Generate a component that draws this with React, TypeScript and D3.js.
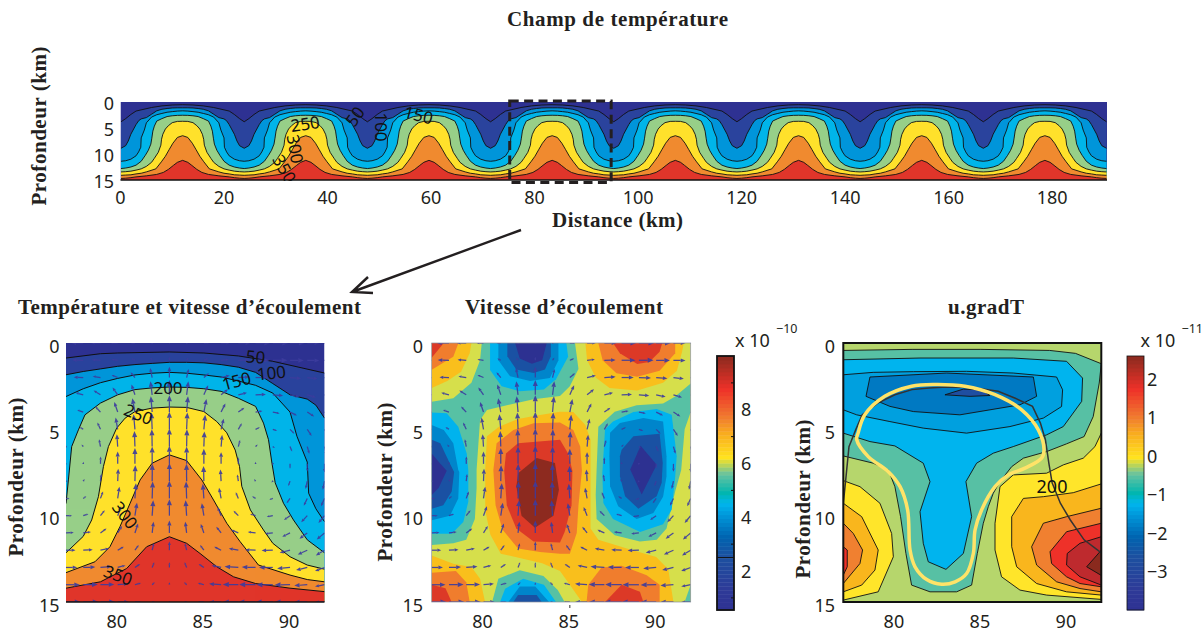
import React from "react";
import * as d3 from "d3";

type P = [number, number];

// ---------- isotherms: [distance km, depth km] ----------
const temp50: P[] = [[77,.87],[79,.62],[80,.58],[83,.52],[85,.58],[87,.75],[89,1.06],[92,1.74]];
const temp100: P[] = [[77,1.84],[78,1.65],[79,1.5],[80,1.35],[81,1.25],[82,1.18],[83,1.12],[84,1.12],[85,1.15],[86,1.25],[87,1.4],[88,1.7],[89,2.35],[90,3.0],[91,3.25],[91.5,3.6],[92,4.35]];
const temp150: P[] = [[77,3.1],[78,2.65],[79,2.3],[80,2.05],[81,1.85],[82,1.75],[83,1.7],[84,1.75],[85,1.85],[86,1.97],[87,2.2],[88,2.45],[89,2.9],[90,4.0],[90.4,5.4],[91,6.9],[91.08,8.7],[91.5,9.6],[92,10.35]];
const temp200: P[] = [[77,9.3],[77.14,7.93],[77.33,6],[77.72,5.03],[78.1,4.16],[79,3.48],[80,3],[81,2.7],[82,2.6],[83,2.55],[84,2.57],[85,2.65],[86,2.8],[87,3.2],[88,3.67],[88.46,4.64],[88.75,5.6],[88.95,6.96],[89.14,8.1],[89.62,9.28],[90.2,10.25],[91,11.4],[92,12.15]];
const temp250: P[] = [[77,12.15],[78,11.2],[78.49,10.25],[78.88,8.9],[79.17,7.16],[79.46,6],[79.94,4.93],[80.43,4.35],[81,3.97],[82,3.77],[83,3.71],[84,3.73],[85,3.97],[85.75,4.55],[86.33,5.2],[86.82,6.2],[87.07,7.16],[87.2,8.3],[87.7,9.67],[88.46,10.83],[89,11.6],[90,12.38],[91,12.86],[92,13.1]];
const temp300: P[] = [[77,13.3],[78.68,12.67],[79.55,11.8],[80.13,10.64],[80.72,9.28],[81.3,7.93],[82,6.96],[83,6.48],[84,6.81],[84.88,7.93],[85.56,9.09],[86.33,10.44],[87.1,11.5],[88.17,12.86],[90,13.44],[91,13.7],[92,13.83]];
const temp350: P[] = [[77,14.2],[79,13.83],[80.52,13.06],[81.68,11.8],[83,11.22],[84,11.6],[84.78,12.19],[85.75,12.96],[86.72,13.54],[88,13.93],[90,14.2],[92,14.4]];
const isotherms = [temp50, temp100, temp150, temp200, temp250, temp300, temp350];

// continuation of each isotherm from 9 km to 11.9 km from the crest: [offset km, depth km]
const trough50: P[] = [[10,2.4],[11,3.2],[11.9,3.8]];
const trough100: P[] = [[10,6.2],[10.5,7.5],[11,8.4],[11.9,8.9]];
const trough150: P[] = [[10,11],[11,11.3],[11.9,11.4]];
const trough200: P[] = [[10,12.5],[11,12.7],[11.9,12.8]];
const trough250: P[] = [[10,13.3],[11,13.4],[11.9,13.45]];
const trough300: P[] = [[10,14],[11,14.05],[11.9,14.1]];
const trough350: P[] = [[10,14.55],[11,14.65],[11.9,14.7]];
const troughs = [trough50, trough100, trough150, trough200, trough250, trough300, trough350];
const crestDistances = [12, 35.8, 59.6, 83.4, 107.2, 131, 154.8, 178.6];
const crestOfZoom = 83;
const tempColors = ["#2A439D", "#0095DA", "#00B5E9", "#97CF88", "#FFE12B", "#F08A2F", "#E0352A"];
const tempTopColor = "#2E3192";

// ---------- flow: arrows on the 1 km grid ----------
const gridX = d3.range(77, 93);
const gridD = d3.range(0, 16);
const flowU = [
[-.85,-.7,-.55,-.4,-.25,-.1,0,.1,.3,.5,.7,.85,.9,.85,.7,.6],
[-.8,-.65,-.5,-.35,-.2,-.1,0,.1,.25,.45,.65,.8,.85,.8,.7,.6],
[-.7,-.55,-.45,-.35,-.25,-.12,0,.12,.3,.5,.65,.7,.7,.65,.6,.5],
[-.55,-.45,-.4,-.3,-.2,-.1,0,.1,.25,.4,.5,.6,.6,.55,.5,.5],
[-.4,-.35,-.3,-.2,-.15,-.08,0,.08,.15,.25,.35,.4,.4,.4,.4,.4],
[-.25,-.2,-.18,-.12,-.08,-.04,0,.04,.08,.15,.2,.25,.25,.25,.25,.25],
[-.1,-.1,-.08,-.05,-.03,-.02,0,.02,.03,.06,.1,.12,.12,.12,.12,.12],
[0,.01,.01,0,0,0,0,0,0,0,-.01,-.01,-.01,0,0,0],
[.1,.08,.05,.03,.02,.01,0,-.01,-.02,-.04,-.06,-.08,-.08,-.1,-.1,-.1],
[.2,.18,.15,.1,.06,.03,0,-.03,-.06,-.12,-.15,-.2,-.2,-.2,-.2,-.2],
[.35,.3,.25,.2,.12,.06,0,-.06,-.12,-.2,-.28,-.32,-.35,-.35,-.35,-.35],
[.45,.45,.35,.25,.18,.08,0,-.08,-.18,-.28,-.4,-.45,-.45,-.45,-.45,-.45],
[.55,.55,.5,.35,.22,.1,0,-.1,-.22,-.4,-.55,-.6,-.65,-.6,-.55,-.5],
[.65,.7,.65,.45,.3,.12,0,-.12,-.3,-.55,-.8,-.8,-.8,-.75,-.65,-.55],
[.8,.85,.8,.6,.35,.15,0,-.15,-.35,-.7,-.9,-.95,-.95,-.9,-.75,-.55],
[.85,.9,.85,.65,.35,.15,0,-.15,-.35,-.7,-.9,-1,-1,-.9,-.75,-.55],
];
const flowV = [
[0,0,0,0,0,0,0,0,0,0,0,0,0,0,0,0],
[.02,.02,.03,.05,.1,.15,.2,.15,.1,.05,.02,0,0,-.01,-.02,-.02],
[0,.02,.07,.15,.3,.55,.62,.5,.25,.12,.05,0,-.03,-.05,-.07,-.05],
[.05,.12,.25,.42,.6,.78,.85,.78,.55,.32,.12,.02,-.05,-.12,-.15,-.12],
[.02,.12,.32,.58,.8,.92,.98,.92,.75,.5,.25,.06,-.08,-.2,-.25,-.25],
[0,.12,.4,.68,.88,.98,1.02,.98,.85,.62,.35,.12,-.08,-.25,-.38,-.4],
[-.02,.12,.42,.72,.9,1,1.05,1,.88,.68,.38,.12,-.08,-.28,-.42,-.5],
[-.02,.12,.42,.72,.92,1,1.05,1,.88,.68,.38,.12,-.08,-.28,-.45,-.5],
[-.02,.12,.42,.72,.92,1,1.05,1,.88,.68,.38,.12,-.08,-.28,-.45,-.5],
[-.02,.12,.4,.68,.88,.98,1.02,.98,.85,.62,.35,.12,-.08,-.28,-.42,-.45],
[0,.1,.32,.55,.75,.9,.95,.9,.72,.5,.28,.1,-.06,-.25,-.38,-.42],
[.02,.06,.25,.4,.55,.65,.72,.65,.52,.36,.18,.06,-.05,-.22,-.33,-.38],
[0,.03,.1,.2,.3,.4,.5,.4,.3,.2,.1,.03,-.02,-.15,-.25,-.3],
[0,.02,.05,.12,.2,.3,.3,.3,.2,.12,.05,.02,0,-.06,-.15,-.2],
[0,.01,.02,.05,.1,.15,.15,.15,.1,.05,.02,.01,0,-.01,-.05,-.1],
[0,0,0,0,0,0,0,0,0,0,0,0,0,0,0,0],
];

// ---------- speed bands (×10⁻¹⁰): polygon outlines [distance km, depth km] ----------
const speedWarmTopLeft: P[] = [[77,0],[79.3,0],[79.2,.6],[78.7,1.66],[77.9,2.2],[77,2.6]];
const speedWarmTopRight: P[] = [[85.9,0],[86,1],[86.5,2],[87.3,2.6],[88.9,2.75],[90.4,2.3],[91.2,1.6],[91.5,.5],[91.6,0]];
const speedWarmCentre: P[] = [[80.1,7.35],[80.2,5.4],[80.9,4.85],[82,4.4],[83.1,4.2],[84.43,3.98],[85.2,4],[85.9,4.75],[86.2,5.6],[86.2,9.4],[86.2,10.75],[86.65,11.4],[88.3,11.9],[90,12.4],[90.7,13.1],[91,15],[85.7,15],[85,14],[84.43,13.2],[83.4,12.75],[82.1,12.45],[81,12.2],[80.4,11.1],[80.1,9.7]];
const speedWarmBottomLeft: P[] = [[77,12.3],[78.25,12.78],[79.3,12.97],[79.8,13.65],[80.09,15],[77,15]];
const speedOrangeTopLeft: P[] = [[77,0],[78.55,0],[78.25,.8],[77,1.55]];
const speedOrangeTopRight: P[] = [[86.65,0],[86.9,1],[87.7,1.75],[88.9,1.95],[90.2,1.6],[91.1,.6],[91.1,0]];
const speedOrangeCentre: P[] = [[80.57,7.35],[80.76,5.8],[81.73,5.04],[82.9,4.65],[84.43,4.6],[85.2,5.04],[85.6,6],[85.7,7.4],[85.5,9.4],[85.4,11],[85,12.2],[84.43,12.2],[83.27,12.1],[82,11.9],[81.1,10.8],[80.7,9.4]];
const speedOrangeBottomLeft: P[] = [[77,13.3],[78.4,13.2],[79,13.85],[79.2,15],[77,15]];
const speedOrangeBottomRight: P[] = [[85.97,15],[86.07,14],[86.84,13],[88,12.9],[89.45,13.45],[90.2,14],[90.2,15]];
const speedRedTopLeft: P[] = [[77,0],[77.7,0],[77,.85]];
const speedRedTopRight: P[] = [[87.5,0],[87.9,.6],[88.9,1.22],[89.6,1.1],[90.2,.5],[90.35,0]];
const speedRedCentre: P[] = [[81.2,7.4],[81.3,6.4],[82,5.8],[84.43,5.6],[84.9,6.4],[85.15,7.4],[85.1,9.4],[84.7,10.95],[84.43,11.55],[82.9,11.5],[81.9,10.75],[81.35,9.4]];
const speedRedBottomLeft: P[] = [[77,14],[77.8,14.2],[78.15,15],[77,15]];
const speedRedBottomRight: P[] = [[87.04,15],[88,14],[89.06,14.4],[89.26,15]];
const speedPeak: P[] = [[82.02,7.53],[83.08,6.66],[84.14,6.95],[84.37,8.5],[84.05,10],[82.98,10.7],[82.2,10],[81.9,8.3]];
const speedTealMain: P[] = [[79.9,0],[79.8,1],[79.3,2.3],[78.25,3.2],[77,3.4],[77,11.7],[78.25,11.6],[79,11.4],[79.5,10.2],[79.6,8.4],[79.6,7.35],[79.8,4.46],[80.2,3.88],[81.35,3.6],[82.9,3.26],[84.43,3.07],[85,2.5],[85.5,1.5],[85.3,0]];
const speedTealRight: P[] = [[86.55,7.35],[86.65,4.85],[87.6,3.98],[88.87,3.6],[90.4,3.5],[91.1,3.1],[92,2.34],[92,4],[91.65,5],[91.45,7.35],[91.1,8.6],[90.6,10.75],[90.03,11.4],[89.06,11.5],[87.6,11.14],[86.55,10.2],[86.5,8.8]];
const speedTealBottom: P[] = [[80.5,15],[80.86,13.65],[82.1,13.16],[83.47,13.5],[84.3,14.3],[84.7,15]];
const speedTealCorner: P[] = [[91.65,15],[92,14],[92,15]];
const speedCyanTop: P[] = [[80.38,0],[80.38,1.56],[81.05,2.5],[82.1,2.8],[83.5,2.7],[84.2,2.1],[84.9,.8],[84.8,0]];
const speedCyanLeft: P[] = [[77,4.03],[77.87,4.07],[78.54,4.85],[79.03,6.4],[79.12,7.4],[79.12,9.2],[78.83,10.37],[78.16,11.05],[77,11.05]];
const speedCyanRight: P[] = [[87.04,5],[87.5,4.54],[88.68,4],[90.03,3.82],[90.9,4.15],[91.19,6.56],[91.09,7.9],[90.9,9.65],[90.4,10.5],[89.07,10.95],[87.5,10.2],[86.94,9.27],[86.88,7.53]];
const speedCyanBottom: P[] = [[80.96,15],[81.25,14.23],[82.3,13.65],[83.5,14],[84.2,15]];
const speedBlueTop: P[] = [[80.86,0],[80.86,1],[81.54,1.93],[82.7,2.2],[83.85,2.03],[84.34,1],[84.34,0]];
const speedBlueLeft: P[] = [[77,4.75],[77.7,5.04],[78.25,5.8],[78.54,7.35],[78.6,7.47],[78.54,9],[78.06,10],[77,10.27]];
const speedBlueRight: P[] = [[87.33,5.2],[87.9,4.63],[89.26,4.34],[90.4,4.54],[90.6,6.56],[90.6,7.72],[90.4,8.9],[89.84,9.85],[88.87,10.2],[87.8,9.46],[87.33,8.3],[87.29,6.56]];
const speedBlueBottom: P[] = [[81.44,15],[82.1,14.1],[83,14.1],[83.8,15]];
const speedDeepTop: P[] = [[81.38,0],[81.38,.77],[81.9,1.54],[82.9,1.74],[83.56,1.54],[83.9,.77],[83.9,0]];
const speedDeepLeft: P[] = [[77,5.6],[77.5,5.8],[78.06,7],[78.3,7.47],[78.16,8.6],[77.67,9.4],[77,9.6]];
const speedDeepRight: P[] = [[88,6.18],[88.68,5.4],[90.2,5.25],[90.38,6.95],[90.32,8.1],[90.03,8.88],[88.97,9.6],[88.2,8.88],[87.9,7.72],[87.9,6.56]];
const speedDeepBottom: P[] = [[81.73,15],[82,14.6],[83.08,14.6],[83.37,15]];
const speedNavyTop: P[] = [[81.83,0],[82.1,.9],[82.8,1.2],[83.4,1],[83.66,0]];
const speedNavyLeft: P[] = [[77,6.4],[77.5,7],[77.87,7.4],[77.4,8.4],[77,8.8]];
const speedNavyRight: P[] = [[89.1,5.95],[90.03,7.05],[89.16,8.78],[88.5,7.33]];

const speedBackground = "#D6DF4B";
const speedLayers: [string, P[][]][] = [
  ["#F9BF1D", [speedWarmTopLeft, speedWarmTopRight, speedWarmCentre, speedWarmBottomLeft]],
  ["#F07D2E", [speedOrangeTopLeft, speedOrangeTopRight, speedOrangeCentre, speedOrangeBottomLeft, speedOrangeBottomRight]],
  ["#DC3A28", [speedRedTopLeft, speedRedTopRight, speedRedCentre, speedRedBottomLeft, speedRedBottomRight]],
  ["#8E2B20", [speedPeak]],
  ["#57C2A4", [speedTealMain, speedTealRight, speedTealBottom, speedTealCorner]],
  ["#00B4EE", [speedCyanTop, speedCyanLeft, speedCyanRight, speedCyanBottom]],
  ["#0086CB", [speedBlueTop, speedBlueLeft, speedBlueRight, speedBlueBottom]],
  ["#1B52A3", [speedDeepTop, speedDeepLeft, speedDeepRight, speedDeepBottom]],
  ["#2E3192", [speedNavyTop, speedNavyLeft, speedNavyRight]],
];

// ---------- u.gradT bands (×10⁻¹¹) ----------
const gradTeal: P[] = [[77,.43],[81,.37],[85,.37],[89,.43],[90.5,.6],[92,1.2],[91.88,2.32],[91.53,4.26],[91,5.42],[89.98,5.84],[88.82,6.29],[87.47,6.67],[86.79,7.16],[86.11,8.03],[85.72,8.7],[85.43,9.48],[85.14,10.44],[84.79,12.19],[84.46,14.02],[83.59,14.41],[82.04,14.41],[80.97,14.02],[80.64,12.19],[80.33,10.06],[80,8.32],[79.62,7.35],[78.74,6.96],[77,6.54]];
const gradCyan: P[] = [[77,.97],[81.46,.87],[86.88,.87],[89.98,1.06],[90.91,2.03],[90.86,3.38],[89.79,4.84],[88.82,5.32],[86.88,6],[85.72,6.38],[84.75,6.96],[84.13,8.03],[84.46,10.06],[83.98,12.19],[82.97,13.11],[81.94,12.67],[81.65,11.6],[81.46,9.77],[82.04,8.03],[81.65,6.96],[80,5.96],[78.55,5.71],[77,5.22]];
const gradBlue: P[] = [[77,1.84],[78.74,1.7],[81.07,1.66],[84.17,1.64],[86.88,1.74],[89.4,1.97],[89.75,2.71],[89.69,3.68],[88.63,4.35],[86.69,4.84],[84.17,5.22],[81.65,4.93],[79.71,4.55],[77.78,4.16],[77,3.87]];
const gradDeep: P[] = [[78.32,3.09],[78.55,1.97],[83.01,1.74],[88.05,1.97],[88.24,3.09],[87.27,3.58],[83.78,4.16],[81.07,3.97],[79.71,3.67]];
const gradMin: P[] = [[82.91,3],[83.98,2.67],[85.04,2.71],[85.53,3.04],[84.37,3.09]];
const gradYellowRight: P[] = [[92,5.22],[91.63,6],[90.95,6.67],[89.79,7.06],[88.82,7.54],[86.88,7.64],[86.11,8.32],[85.82,10.44],[85.82,11.99],[86.2,13.54],[87.27,14.31],[88.82,14.6],[92,14.85]];
const gradAmberRight: P[] = [[92,8.16],[90.37,8.67],[88.63,8.9],[87.47,9],[86.79,10.06],[86.79,11.8],[87.08,12.96],[88.24,13.93],[89.98,14.41],[92,14.6]];
const gradOrangeRight: P[] = [[92,9.57],[89.98,10.06],[88.63,10.44],[87.95,11.8],[88.24,12.86],[89.4,13.83],[90.76,14.22],[92,14.41]];
const gradRedRight: P[] = [[92,10.44],[89.98,10.93],[89.02,12.09],[89.11,12.77],[89.98,13.54],[90.76,13.93],[92,14.12]];
const gradCrimsonRight: P[] = [[92,11.22],[90.76,11.6],[90.02,12.19],[89.98,12.86],[90.76,13.54],[92,14.02]];
const gradMax: P[] = [[92,12],[91.15,12.96],[92,13.46]];
const gradYellowLeft: P[] = [[77,7.97],[77.97,8.32],[79.13,9.28],[79.81,11.03],[79.91,12.38],[79.03,14.41],[77,14.89]];
const gradAmberLeft: P[] = [[77,9.28],[78.07,10.06],[79.03,11.99],[78.84,13.15],[78.07,14.02],[77,14.41]];
const gradOrangeLeft: P[] = [[77,10.44],[77.58,11.03],[78.12,11.99],[77.97,12.77],[77,13.93]];
const gradRedLeft: P[] = [[77,11.8],[77.23,11.99],[77.23,12.96],[77,13.44]];
const gradLoop: P[] = [[77.86,5.22],[78.25,4.16],[79.41,3.09],[80.97,2.5],[82.33,2.4],[84.07,2.5],[85.82,2.99],[87.37,3.87],[88.34,5.03],[88.67,6.19],[88.53,6.67],[87.56,7.25],[86.59,7.64],[85.82,8.32],[85.04,9.67],[84.66,10.83],[84.56,12.19],[84.17,13.35],[83.5,13.83],[82.72,13.97],[81.85,13.7],[81.17,12.96],[80.88,11.99],[80.74,9.67],[80.3,8.32],[79.62,7.45],[78.45,6.58],[77.78,5.6]];

const gradBackground = "#B6D66C";
const gradLayers: [string, P[][]][] = [
  ["#57C0A4", [gradTeal]],
  ["#00B4EE", [gradCyan]],
  ["#00A0DF", [gradBlue]],
  ["#0079C2", [gradDeep]],
  ["#1F4EA1", [gradMin]],
  ["#FFE52A", [gradYellowRight, gradYellowLeft]],
  ["#F9B61D", [gradAmberRight, gradAmberLeft]],
  ["#F08030", [gradOrangeRight, gradOrangeLeft]],
  ["#EE3129", [gradRedRight, gradRedLeft]],
  ["#BE2A2E", [gradCrimsonRight]],
  ["#8A2A1E", [gradMax]],
];

// ---------- colour bar ----------
const barStops = [0, .079, .21, .286, .37, .42, .46, .535, .6, .7, .76, .87, 1];
const barColors = ["#2E3192", "#2E3A98", "#1C50A0", "#0063B0", "#0095D8", "#00B6EE", "#00B6B0", "#66C2A0", "#FFE31E", "#F8A91F", "#F07A2F", "#EE3129", "#8A2B1F"];
const barLevels = d3.range(0, 64);
const speedBarTicks = [2, 4, 6, 8];
const speedBarMinor = [1, 3, 5, 7, 9];
const gradBarTicks = [2, 1, 0, -1, -2, -3];
const depthTicks = [0, 5, 10, 15];
const zoomTicks = [80, 85, 90];
const distanceTicks = [0, 20, 40, 60, 80, 100, 120, 140, 160, 180];
const zoomBoxKm = [75.2, 94.8];

// ---------- layout ----------
const FONT = "'Noto Sans', sans-serif";
const SERIF = "'Liberation Serif', serif";
const INK = "#231F20";
const ARROW = "#3D3C9E";
const PANEL_TOP = 343, PANEL_BOTTOM = 602;

const fmt = (v: number) => String(v).replace("-", "\u2212");

function Quiver({ x, y }: { x: any; y: any }) {
  const items: React.ReactNode[] = [];
  gridD.forEach((d, r) => gridX.forEach((g, c) => {
    const u = flowU[r][c], v = flowV[r][c];
    const x1 = x(g), y1 = y(d), x2 = x(g + u), y2 = y(d - v);
    const len = Math.hypot(x2 - x1, y2 - y1);
    if (len < .6) { items.push(<circle key={r + "-" + c} cx={x1} cy={y1} r={.7} fill={ARROW} />); return; }
    const ux = (x2 - x1) / len, uy = (y2 - y1) / len;
    const h = Math.max(2.2, Math.min(6, len * .4));
    const w = h * .42;
    const bx = x2 - ux * h, by = y2 - uy * h;
    items.push(<g key={r + "-" + c}>
      <line x1={x1} y1={y1} x2={bx} y2={by} stroke={ARROW} strokeWidth={1.25} />
      <path d={`M${x2},${y2}L${bx - uy * w},${by + ux * w}L${bx + uy * w},${by - ux * w}Z`} fill={ARROW} />
    </g>);
  }));
  return <g opacity={.92}>{items}</g>;
}

function ZoomAxes({ x, y, rightY, labelX, labelY }: any) {
  return <g fontFamily={FONT} fontSize={18} fill={INK}>
    {zoomTicks.map(t => <text key={t} x={x(t) - 1} y={627.5} textAnchor="middle">{t}</text>)}
    {depthTicks.map(t => <text key={t} x={rightY} y={y(t) + 9.5} textAnchor="end">{t}</text>)}
    <text transform={`translate(${labelX},${labelY}) rotate(-90)`} fontFamily={SERIF} fontWeight="bold" fontSize={21} textAnchor="middle" textLength={159} lengthAdjust="spacing">Profondeur (km)</text>
  </g>;
}

function ColorBar({ x0, domain, ticks, labelOf, minor, line, labelX, expX, expSup }: any) {
  const top = 356, bottom = 610, w = 17;
  const tScale = d3.scaleLinear().domain(barStops).range(barColors as any) as any;
  const yScale = d3.scaleLinear().domain(domain).range([bottom, top]);
  const h = (bottom - top) / barLevels.length;
  return <g>
    {barLevels.map(i => <rect key={i} x={x0} y={bottom - (i + 1) * h} width={w} height={h + .4} fill={tScale((i + .5) / barLevels.length)} />)}
    {line != null && <line x1={x0} x2={x0 + w} y1={yScale(line)} y2={yScale(line)} stroke="#111" strokeWidth={1} />}
    <rect x={x0} y={top} width={w} height={bottom - top} fill="none" stroke="#111" strokeWidth={minor ? 1.8 : .8} />
    {minor && minor.map((m: number) => <line key={m} x1={x0 + w} x2={x0 + w - 3} y1={yScale(m)} y2={yScale(m)} stroke="#111" strokeWidth={1} />)}
    <g fontFamily={FONT} fontSize={18} fill={INK}>
      {ticks.map((t: number) => <text key={t} x={labelX} y={labelOf(t) + 6.5}>{fmt(t)}</text>)}
      <text x={expX} y={347} fontSize={18}>x 10</text>
      <text x={expX + 41} y={333} fontSize={12.5}>{expSup}</text>
    </g>
  </g>;
}

export default function App() {
  // top strip
  const tx = d3.scaleLinear().domain([0, 190.6]).range([120.5, 1107]);
  const ty = d3.scaleLinear().domain([0, 15]).range([102, 180]);
  const topLine = d3.line<P>().x(p => tx(p[0])).y(p => ty(p[1]));
  const topProfiles = isotherms.map((iso, i) => {
    const right: P[] = iso.filter(p => p[0] >= crestOfZoom).map(p => [p[0] - crestOfZoom, p[1]] as P).concat(troughs[i]);
    const left: P[] = right.slice(1).reverse().map(p => [-p[0], p[1]] as P);
    const one = left.concat(right);
    return crestDistances.flatMap(c => one.map(p => [c + p[0], p[1]] as P));
  });

  // three zooms
  const py = d3.scaleLinear().domain([0, 15]).range([PANEL_TOP, PANEL_BOTTOM]);
  const p1 = d3.scaleLinear().domain([77, 92]).range([66, 324.5]);
  const p2 = d3.scaleLinear().domain([77, 92]).range([431.7, 690.7]);
  const p3 = d3.scaleLinear().domain([77, 92]).range([843.3, 1101.3]);
  const mk = (xs: any) => d3.line<P>().x(p => xs(p[0])).y(p => py(p[1]));
  const l1 = mk(p1), l2 = mk(p2), l3 = mk(p3);
  const loop = d3.line<P>().x(p => p3(p[0])).y(p => py(p[1])).curve(d3.curveCatmullRomClosed.alpha(.5));

  const speedBar = (v: number) => 571 - (v - 2) * 26.9;
  const gradBar = (v: number) => 456 - v * 38.5;

  return (
    <svg width={1204} height={633} viewBox="0 0 1204 633" style={{ position: "absolute", left: 0, top: 0, display: "block", background: "#fff" }}>
      <defs>
        <clipPath id="cTop"><rect x={120.5} y={102} width={986.5} height={78} /></clipPath>
        <clipPath id="cLab"><rect x={120.5} y={96} width={986.5} height={85} /></clipPath>
        <clipPath id="c1"><rect x={66} y={PANEL_TOP} width={258.5} height={259} /></clipPath>
        <clipPath id="c2"><rect x={431.7} y={PANEL_TOP} width={259} height={259} /></clipPath>
        <clipPath id="c3"><rect x={843.3} y={PANEL_TOP} width={258} height={259} /></clipPath>
      </defs>

      {/* titles */}
      <g fontFamily={SERIF} fontWeight="bold" fontSize={21} fill={INK}>
        <text x={507} y={26} textLength={221} lengthAdjust="spacing">Champ de température</text>
        <text x={552} y={227} textLength={131} lengthAdjust="spacing">Distance (km)</text>
        <text x={18} y={314} textLength={343} lengthAdjust="spacing">Température et vitesse d’écoulement</text>
        <text x={465} y={314} textLength={198} lengthAdjust="spacing">Vitesse d’écoulement</text>
        <text x={948} y={314} textLength={76} lengthAdjust="spacing">u.gradT</text>
        <text transform="translate(46,126) rotate(-90)" textAnchor="middle" textLength={159} lengthAdjust="spacing">Profondeur (km)</text>
      </g>

      {/* top strip */}
      <g clipPath="url(#cTop)">
        <rect x={120.5} y={102} width={986.5} height={78} fill={tempTopColor} />
        {topProfiles.map((pr, i) => <path key={i} d={topLine(pr.concat([[pr[pr.length - 1][0], 15], [pr[0][0], 15]] as P[])) + "Z"} fill={tempColors[i]} />)}
        {topProfiles.map((pr, i) => <path key={i} d={topLine(pr) as string} fill="none" stroke="#111" strokeWidth={.9} />)}
      </g>
      <line x1={120.5} x2={1107} y1={180} y2={180} stroke="#111" strokeWidth={1.3} />
      <g clipPath="url(#cLab)" fontFamily={FONT} fontSize={17} fill="#111">
        <text transform="translate(306,130) rotate(-8)" textAnchor="middle">250</text>
        <text transform="translate(289,150) rotate(80)" textAnchor="middle">300</text>
        <text transform="translate(279,172) rotate(60)" textAnchor="middle">350</text>
        <text transform="translate(360,120) rotate(-55)" textAnchor="middle">50</text>
        <text transform="translate(375,127) rotate(90)" textAnchor="middle">100</text>
        <text transform="translate(417,121) rotate(14)" textAnchor="middle">150</text>
      </g>
      <g fontFamily={FONT} fontSize={18} fill={INK}>
        {distanceTicks.map(t => <text key={t} x={tx(t)} y={204} textAnchor="middle">{t}</text>)}
        {depthTicks.map(t => <text key={t} x={114} y={ty(t) + 7.5} textAnchor="end">{t}</text>)}
      </g>
      <rect x={tx(zoomBoxKm[0])} y={101} width={tx(zoomBoxKm[1]) - tx(zoomBoxKm[0])} height={81.5} fill="none" stroke={INK} strokeWidth={3} strokeDasharray="9 5.4" />

      {/* pointer */}
      <path d="M521,230L352,292M368,277L352,292L373,293" fill="none" stroke={INK} strokeWidth={2.4} />

      {/* panel 1 */}
      <g clipPath="url(#c1)">
        <rect x={66} y={PANEL_TOP} width={258.5} height={259} fill={tempTopColor} />
        {isotherms.map((iso, i) => <path key={i} d={l1(iso.concat([[92, 15], [77, 15]] as P[])) + "Z"} fill={tempColors[i]} />)}
        {isotherms.map((iso, i) => <path key={i} d={l1(iso) as string} fill="none" stroke="#111" strokeWidth={1} />)}
        <Quiver x={p1} y={py} />
      </g>
      <line x1={66} x2={324.5} y1={PANEL_BOTTOM} y2={PANEL_BOTTOM} stroke="#111" strokeWidth={1.4} />
      <g fontFamily={FONT} fontSize={17} fill="#111">
        <text transform="translate(255,363) rotate(5)" textAnchor="middle">50</text>
        <text transform="translate(272,379) rotate(-6)" textAnchor="middle">100</text>
        <text transform="translate(238,387) rotate(-15)" textAnchor="middle">150</text>
        <text transform="translate(168,394)" textAnchor="middle">200</text>
        <text transform="translate(136,420) rotate(22)" textAnchor="middle">250</text>
        <text transform="translate(120,519) rotate(52)" textAnchor="middle">300</text>
        <text transform="translate(116,581) rotate(20)" textAnchor="middle">350</text>
      </g>
      <ZoomAxes x={p1} y={py} rightY={59.5} labelX={23} labelY={477} />

      {/* panel 2 */}
      <g clipPath="url(#c2)">
        <rect x={431.7} y={PANEL_TOP} width={259} height={259} fill={speedBackground} />
        {speedLayers.map(([c, polys]) => polys.map((poly, j) => <path key={c + j} d={l2(poly) + "Z"} fill={c} />))}
        <Quiver x={p2} y={py} />
      </g>
      <rect x={431.7} y={PANEL_TOP} width={259} height={259} fill="none" stroke="#8a8f9a" strokeWidth={.7} />
      <line x1={p2(85)} x2={p2(85)} y1={605} y2={608} stroke="#333" strokeWidth={1} />
      <ZoomAxes x={p2} y={py} rightY={423} labelX={392} labelY={482} />
      <ColorBar x0={717} domain={[.55, 10]} ticks={speedBarTicks} labelOf={speedBar} minor={speedBarMinor} line={2.5} labelX={741} expX={735} expSup={"\u221210"} />

      {/* panel 3 */}
      <g clipPath="url(#c3)">
        <rect x={843.3} y={PANEL_TOP} width={258} height={259} fill={gradBackground} />
        {gradLayers.map(([c, polys]) => polys.map((poly, j) => <path key={c + j} d={l3(poly) + "Z"} fill={c} stroke="#111" strokeWidth={.9} />))}
        <path d={l3(temp200) as string} fill="none" stroke="#333" strokeWidth={1.5} />
        <path d={loop(gradLoop) as string} fill="none" stroke="#FFE368" strokeWidth={3.5} />
      </g>
      <rect x={843.3} y={PANEL_TOP} width={258} height={259} fill="none" stroke="#111" strokeWidth={2} />
      <text x={1052} y={493} textAnchor="middle" fontFamily={FONT} fontSize={18} fill="#111">200</text>
      <ZoomAxes x={p3} y={py} rightY={835} labelX={810} labelY={499} />
      <ColorBar x0={1127} domain={[-4, 2.6]} ticks={gradBarTicks} labelOf={gradBar} minor={null} line={null} labelX={1147} expX={1140.5} expSup={"\u221211"} />
    </svg>
  );
}
